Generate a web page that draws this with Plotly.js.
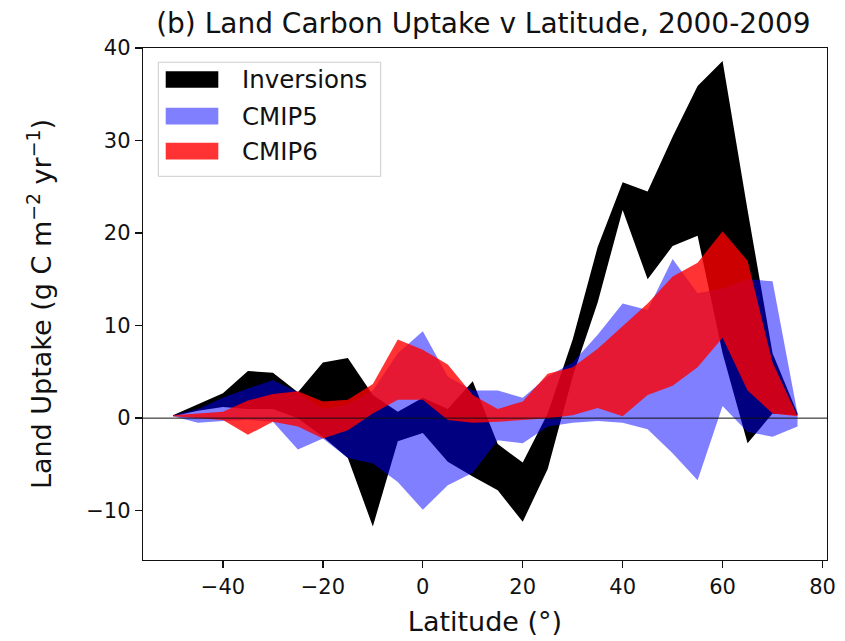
<!DOCTYPE html>
<html>
<head>
<meta charset="utf-8">
<script src="https://cdn.plot.ly/plotly-3.0.1.min.js"></script>
<style>
  html, body { margin: 0; padding: 0; background: #fff; }
  #chart { width: 845px; height: 641px; }
</style>
</head>
<body>
<div id="chart"></div>
<script>
// Latitude bins (degrees)
const latitudes = [-50,-45,-40,-35,-30,-25,-20,-15,-10,-5,0,5,10,15,20,25,30,35,40,45,50,55,60,65,70,75];

// Inversions envelope
const inversionsUpper = [0.3,1.5,2.7,5.1,4.9,2.8,6.0,6.5,2.5,0.7,2.2,1.0,4.0,-2.8,-4.8,0.5,8.5,18.5,25.5,24.5,30.4,35.9,38.6,22.5,7.0,0.5];
const inversionsLower = [0.2,0.8,1.2,1.0,1.0,0.0,-2.0,-4.3,-11.7,-2.5,-1.6,-4.7,-6.3,-7.8,-11.2,-5.5,4.5,12.5,22.5,15.0,18.6,19.7,7.0,-2.7,0.5,0.3];

// CMIP5 envelope
const cmip5Upper = [0.3,1.0,2.2,3.2,4.1,2.8,1.0,1.5,3.0,7.0,9.4,4.5,3.0,3.0,2.2,4.5,6.0,9.0,12.4,11.7,17.2,13.5,14.0,15.0,14.8,0.5];
const cmip5Lower = [0.2,-0.5,-0.3,-0.2,-0.4,-3.4,-2.2,-4.3,-4.9,-6.9,-9.9,-7.25,-5.9,-2.4,-2.7,-0.9,-0.5,-0.3,-0.5,-1.2,-3.8,-6.7,1.3,-1.5,-2.0,-0.9];

// CMIP6 envelope
const cmip6Upper = [0.3,0.5,0.7,1.9,2.6,2.9,1.8,2.0,3.7,8.5,7.4,5.8,2.5,1.0,1.8,4.8,5.5,7.5,9.9,12.4,15.3,16.8,20.2,17.0,6.0,0.2];
const cmip6Lower = [0.2,0.0,-0.2,-1.8,-0.4,-0.9,-2.2,-1.3,0.5,2.0,2.0,-0.2,-0.5,-0.4,-0.2,0.0,0.3,1.1,0.2,2.5,3.5,5.5,8.7,3.0,0.5,0.2];

const seriesNames = ["Inversions", "CMIP5", "CMIP6"];
const seriesFill = ["rgba(0,0,0,1)", "rgba(0,0,255,0.5)", "rgba(255,0,0,0.8)"];

function band(name, upper, lower, color) {
  const xs = latitudes.concat(latitudes.slice().reverse());
  const ys = upper.concat(lower.slice().reverse());
  return {
    type: "scatter", mode: "lines", name: name,
    x: xs, y: ys, fill: "toself", fillcolor: color,
    line: { width: 0, color: color }, hoverinfo: "skip", showlegend: false
  };
}

const data = [
  band(seriesNames[0], inversionsUpper, inversionsLower, seriesFill[0]),
  band(seriesNames[1], cmip5Upper, cmip5Lower, seriesFill[1]),
  band(seriesNames[2], cmip6Upper, cmip6Lower, seriesFill[2])
];

const FONT = "DejaVu Sans, sans-serif";

// Hand-drawn legend (matplotlib style)
const legendRows = [0.9385, 0.8668, 0.7984];
const legendSwatches = ["#000000", "rgb(128,128,255)", "rgb(255,51,51)"];
const shapes = [
  { type: "line", xref: "paper", yref: "y", x0: 0, x1: 1, y0: 0, y1: 0,
    line: { color: "#111", width: 1 }, layer: "above" },
  { type: "rect", xref: "paper", yref: "paper", x0: 0.0224, x1: 0.3475, y0: 0.7494, y1: 0.9722,
    line: { color: "#cccccc", width: 1 }, fillcolor: "rgba(255,255,255,0.8)", layer: "above" }
];
const annotations = [];
legendRows.forEach((yc, i) => {
  shapes.push({ type: "rect", xref: "paper", yref: "paper",
    x0: 0.0332, x1: 0.1101, y0: yc - 0.0163, y1: yc + 0.0163,
    line: { width: 0 }, fillcolor: legendSwatches[i], layer: "above" });
  annotations.push({ xref: "paper", yref: "paper", x: 0.1418, y: yc,
    xanchor: "left", yanchor: "middle", showarrow: false, text: seriesNames[i],
    font: { family: FONT, size: 24.5, color: "#111" } });
});

const layout = {
  width: 845, height: 641,
  margin: { l: 143, r: 18, t: 48, b: 81 },
  paper_bgcolor: "#fff", plot_bgcolor: "#fff",
  font: { family: FONT, color: "#111" },
  title: { text: "(b) Land Carbon Uptake v Latitude, 2000-2009",
    font: { family: FONT, size: 28, color: "#111" },
    x: 0.572, xanchor: "center", y: 0.964, yanchor: "middle", xref: "container", yref: "container" },
  xaxis: {
    range: [-56, 80.9], tickvals: [-40,-20,0,20,40,60,80],
    showgrid: false, zeroline: false, showline: true, mirror: true,
    linecolor: "#111", linewidth: 1.3, ticks: "outside", ticklen: 7, tickwidth: 1.3, tickcolor: "#111",
    tickfont: { family: FONT, size: 21, color: "#111" },
    title: { text: "Latitude (°)", font: { family: FONT, size: 27, color: "#111" }, standoff: 14 }
  },
  yaxis: {
    range: [-15.33, 40], tickvals: [-10,0,10,20,30,40],
    showgrid: false, zeroline: false, showline: true, mirror: true,
    linecolor: "#111", linewidth: 1.3, ticks: "outside", ticklen: 7, tickwidth: 1.3, tickcolor: "#111",
    tickfont: { family: FONT, size: 21, color: "#111" },
    title: { text: "Land Uptake (g C m<sup>−2</sup> yr<sup>−1</sup>)", font: { family: FONT, size: 27, color: "#111" }, standoff: 26 }
  },
  shapes: shapes,
  annotations: annotations,
  showlegend: false
};

Plotly.newPlot("chart", data, layout, { displayModeBar: false, staticPlot: true });
</script>
</body>
</html>
